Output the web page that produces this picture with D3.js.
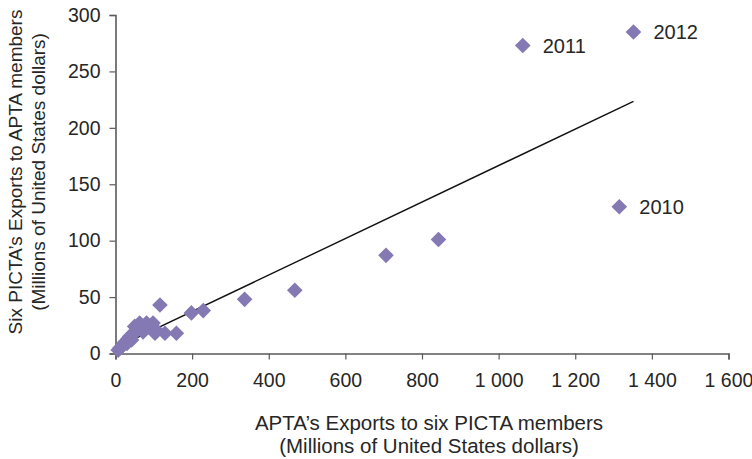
<!DOCTYPE html>
<html>
<head>
<meta charset="utf-8">
<script src="https://cdn.jsdelivr.net/npm/d3@7"></script>
<style>
  html, body { margin: 0; padding: 0; background: #fff; }
  svg { display: block; font-family: "Liberation Sans", Arial, sans-serif; }
</style>
</head>
<body>
<svg id="chart" width="752" height="459"></svg>
<script>
// APTA exports to six PICTA members (x) vs. six PICTA exports to APTA members (y), USD millions
const aptaExports = [7, 12, 16, 20, 24, 30, 33, 37, 42, 46, 50, 55, 63, 68, 72, 81, 90, 98, 103, 103,
                     116, 129, 159, 198, 229, 337, 468, 706, 843, 1315, 1063, 1352];
const pictaExports = [3, 5, 6, 8, 10, 9, 13, 15, 12, 18, 24, 20, 27, 22, 19, 27, 24, 27, 22, 18,
                      43, 18, 18, 36, 38, 48, 56, 87, 101, 130, 273, 285];
const pointLabels = [null, null, null, null, null, null, null, null, null, null, null, null, null, null, null, null,
                     null, null, null, null, null, null, null, null, null, null, null, null, null, "2010", "2011", "2012"];

// Linear trend (y = slope * x + intercept)
const trendSlope = 0.1617;
const trendIntercept = 4.86;

const xTicks = [0, 200, 400, 600, 800, 1000, 1200, 1400, 1600];
const yTicks = [0, 50, 100, 150, 200, 250, 300];
const xTitle = ["APTA\u2019s Exports to six PICTA members", "(Millions of United States dollars)"];
const yTitle = ["Six PICTA\u2019s Exports to APTA members", "(Millions of United States dollars)"];

const points = aptaExports.map((x, i) => ({ x, y: pictaExports[i], label: pointLabels[i] }));

const svg = d3.select("#chart");
const plot = { left: 115.5, right: 728.5, top: 15, bottom: 353.5 };

const x = d3.scaleLinear().domain([0, 1600]).range([plot.left, plot.right]);
const y = d3.scaleLinear().domain([0, 300]).range([plot.bottom, plot.top]);

const axisColor = "#5a5a5a";
const textColor = "#262626";
const markColor = "#8579b4";

// X axis
const gx = svg.append("g")
  .attr("transform", `translate(0,${plot.bottom})`)
  .call(d3.axisBottom(x).tickValues(xTicks).tickSize(6).tickPadding(14)
    .tickFormat(d => d3.format(",")(d).replace(",", " ")));
gx.select(".domain").attr("stroke", axisColor).attr("stroke-width", 1.6);
gx.selectAll(".tick line").attr("stroke", axisColor).attr("stroke-width", 1.2);
gx.selectAll(".tick text").attr("fill", textColor).attr("font-size", 19.5)
  .attr("font-family", "Liberation Sans, Arial, sans-serif");

// Y axis
const gy = svg.append("g")
  .attr("transform", `translate(${plot.left},0)`)
  .call(d3.axisLeft(y).tickValues(yTicks).tickSize(6).tickPadding(9));
gy.select(".domain").attr("stroke", axisColor).attr("stroke-width", 1.6);
gy.selectAll(".tick line").attr("stroke", axisColor).attr("stroke-width", 1.2);
gy.selectAll(".tick text").attr("fill", textColor).attr("font-size", 19.5)
  .attr("font-family", "Liberation Sans, Arial, sans-serif");

// Trend line across the data range
const xExtent = d3.extent(aptaExports);
const trendData = xExtent.map(v => ({ x: v, y: trendSlope * v + trendIntercept }));
svg.append("path")
  .datum(trendData)
  .attr("fill", "none")
  .attr("stroke", "#111")
  .attr("stroke-width", 1.4)
  .attr("d", d3.line().x(d => x(d.x)).y(d => y(d.y)));

// Diamond markers
const r = 7.8;
const diamond = `M0,${-r}L${r},0L0,${r}L${-r},0Z`;
svg.append("g").selectAll("path")
  .data(points)
  .join("path")
  .attr("d", diamond)
  .attr("transform", d => `translate(${x(d.x)},${y(d.y)})`)
  .attr("fill", markColor);

// Year labels
svg.append("g").selectAll("text")
  .data(points.filter(d => d.label))
  .join("text")
  .attr("x", d => x(d.x) + 20)
  .attr("y", d => y(d.y) + 7.5)
  .attr("font-size", 20)
  .attr("fill", textColor)
  .text(d => d.label);

// Axis titles
svg.append("text")
  .attr("text-anchor", "middle")
  .attr("font-size", 20.5)
  .attr("fill", textColor)
  .selectAll("tspan")
  .data(xTitle)
  .join("tspan")
  .attr("x", 429)
  .attr("y", (d, i) => 430 + i * 23)
  .text(d => d);

svg.append("text")
  .attr("text-anchor", "middle")
  .attr("font-size", 19)
  .attr("fill", textColor)
  .attr("transform", "translate(0,172) rotate(-90)")
  .selectAll("tspan")
  .data(yTitle)
  .join("tspan")
  .attr("x", 0)
  .attr("y", (d, i) => 22 + i * 23)
  .text(d => d);
</script>
</body>
</html>
